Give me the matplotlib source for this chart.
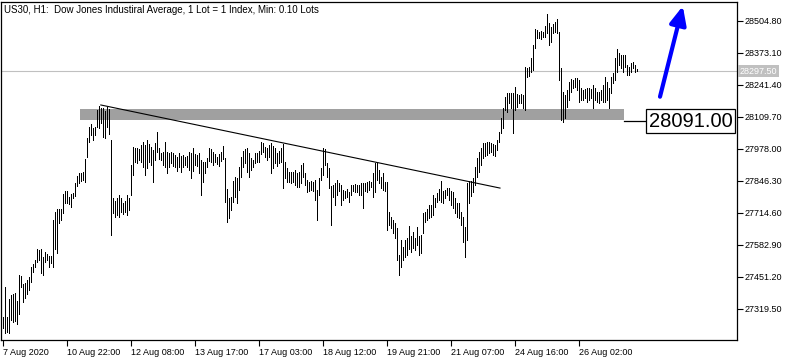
import matplotlib
matplotlib.use('Agg')
import matplotlib.pyplot as plt
from matplotlib.patches import Rectangle
from matplotlib.transforms import blended_transform_factory
import numpy as np

plt.rcParams['font.family'] = ['Liberation Sans', 'DejaVu Sans']

highs = [
    27285, 27409, 27285, 27359, 27376, 27380, 27384, 27351, 27458, 27454,
    27421, 27425, 27438, 27450, 27491, 27503, 27520, 27565, 27561, 27565,
    27532, 27553, 27545, 27536, 27536, 27685, 27717, 27730, 27730, 27730,
    27792, 27804, 27802, 27779, 27792, 27796, 27837, 27866, 27878, 27878,
    27882, 27936, 28022, 28067, 28080, 28063, 28067, 28137, 28154, 28146,
    28146, 28133, 28150, 28141, 28014, 27775, 27763, 27775, 27787, 27775,
    27755, 27763, 27787, 27775, 27911, 27985, 27981, 27981, 27977, 27993,
    28006, 27993, 28014, 27997, 27985, 27973, 28001, 28047, 27981, 27960,
    27964, 28006, 27964, 27960, 27964, 27960, 27952, 27944, 27960, 27948,
    27952, 27944, 27948, 27964, 27960, 27981, 27956, 27952, 27960, 27932,
    27923, 27923, 27940, 27981, 27977, 27964, 27956, 27944, 27956, 27964,
    27989, 27940, 27812, 27775, 27779, 27845, 27862, 27857, 27903, 27944,
    27969, 27977, 27981, 27960, 27940, 27932, 27960, 27960, 27969, 28006,
    28001, 27985, 27981, 27993, 28001, 27989, 27981, 27960, 27969, 27981,
    27997, 27923, 27899, 27882, 27882, 27882, 27890, 27878, 27882, 27911,
    27919, 27878, 27849, 27841, 27845, 27841, 27849, 27808, 27857, 27899,
    27981, 27977, 27919, 27899, 27825, 27829, 27837, 27849, 27837, 27829,
    27808, 27804, 27812, 27800, 27829, 27829, 27833, 27829, 27829, 27837,
    27837, 27837, 27841, 27845, 27841, 27878, 27919, 27919, 27890, 27862,
    27878, 27841, 27841, 27717, 27697, 27685, 27672, 27652, 27541, 27602,
    27573, 27602, 27610, 27660, 27619, 27635, 27610, 27656, 27619, 27623,
    27713, 27717, 27730, 27746, 27746, 27787, 27775, 27796, 27812, 27845,
    27804, 27808, 27816, 27816, 27804, 27800, 27775, 27755, 27755, 27717,
    27697, 27656, 27837, 27845, 27845, 27857, 27903, 27940, 27964, 27981,
    28001, 28001, 28006, 28006, 28001, 27997, 27993, 28014, 28047, 28104,
    28146, 28191, 28207, 28207, 28207, 28207, 28232, 28203, 28199, 28203,
    28199, 28314, 28310, 28314, 28351, 28405, 28471, 28466, 28458, 28462,
    28458, 28483, 28532, 28495, 28479, 28491, 28499, 28512, 28458, 28310,
    28211, 28199, 28220, 28252, 28265, 28261, 28269, 28269, 28261, 28228,
    28220, 28224, 28228, 28228, 28224, 28240, 28228, 28211, 28211, 28220,
    28240, 28273, 28252, 28228, 28273, 28290, 28351, 28388, 28372, 28364,
    28364, 28364, 28322, 28314, 28331, 28335, 28322, 28306,
]

lows = [
    27240, 27220, 27224, 27220, 27273, 27265, 27269, 27257, 27298, 27409,
    27347, 27364, 27380, 27396, 27429, 27471, 27491, 27512, 27520, 27466,
    27458, 27512, 27520, 27491, 27508, 27491, 27565, 27549, 27672, 27685,
    27713, 27755, 27755, 27750, 27738, 27775, 27783, 27825, 27837, 27845,
    27849, 27841, 27944, 28006, 28034, 28014, 28034, 28067, 28063, 28084,
    28026, 28022, 28067, 28039, 27623, 27713, 27697, 27705, 27697, 27717,
    27709, 27717, 27705, 27726, 27787, 27870, 27923, 27919, 27932, 27923,
    27903, 27870, 27899, 27923, 27911, 27841, 27932, 27964, 27936, 27932,
    27911, 27903, 27878, 27903, 27919, 27907, 27903, 27886, 27903, 27882,
    27903, 27911, 27903, 27890, 27857, 27886, 27911, 27907, 27878, 27787,
    27841, 27878, 27903, 27927, 27923, 27911, 27923, 27915, 27907, 27927,
    27936, 27759, 27676, 27693, 27726, 27759, 27779, 27755, 27808, 27862,
    27903, 27919, 27882, 27862, 27890, 27903, 27919, 27923, 27923, 27956,
    27964, 27944, 27932, 27944, 27878, 27899, 27919, 27907, 27919, 27923,
    27816, 27857, 27841, 27841, 27837, 27841, 27829, 27820, 27820, 27837,
    27862, 27829, 27800, 27804, 27808, 27804, 27767, 27685, 27787, 27849,
    27870, 27911, 27862, 27816, 27664, 27779, 27746, 27787, 27804, 27746,
    27767, 27775, 27779, 27759, 27787, 27804, 27800, 27800, 27787, 27787,
    27734, 27804, 27800, 27808, 27820, 27779, 27800, 27849, 27837, 27816,
    27808, 27804, 27643, 27664, 27652, 27631, 27610, 27520, 27458, 27491,
    27520, 27532, 27541, 27565, 27553, 27569, 27561, 27582, 27541, 27549,
    27631, 27676, 27685, 27693, 27697, 27705, 27738, 27759, 27767, 27759,
    27755, 27775, 27787, 27767, 27746, 27734, 27713, 27697, 27693, 27664,
    27594, 27532, 27602, 27755, 27783, 27800, 27829, 27862, 27882, 27911,
    27940, 27948, 27952, 27960, 27964, 27952, 27948, 27973, 28006, 28043,
    28063, 28137, 28129, 28166, 28146, 28043, 28137, 28150, 28166, 28166,
    28146, 28137, 28273, 28277, 28294, 28302, 28392, 28434, 28434, 28429,
    28438, 28438, 28454, 28405, 28417, 28454, 28458, 28454, 28261, 28096,
    28088, 28104, 28150, 28178, 28211, 28228, 28232, 28220, 28170, 28178,
    28178, 28187, 28170, 28178, 28187, 28146, 28178, 28170, 28166, 28178,
    28170, 28170, 28178, 28146, 28207, 28248, 28261, 28294, 28322, 28310,
    28294, 28314, 28281, 28281, 28294, 28310, 28294, 28297,
]

x_labels = ["7 Aug 2020", "10 Aug 22:00", "12 Aug 08:00", "13 Aug 17:00",
            "17 Aug 03:00", "18 Aug 12:00", "19 Aug 21:00", "21 Aug 07:00",
            "24 Aug 16:00", "26 Aug 02:00"]
x_label_bars = [0, 32, 64, 96, 128, 160, 192, 224, 256, 288]
y_ticks = [27319.50, 27451.20, 27582.90, 27714.60, 27846.30,
           27978.00, 28109.70, 28241.40, 28373.10, 28504.80]
last_price = 28297.50
level_price = 28091.00
band_low, band_high = 28096, 28141
band_start, band_end = 38.5, 310.5
trend_start = (48.9, 28158)
trend_end = (248.5, 27816)
arrow_tail = (328.5, 28192)
arrow_tip = (339.9, 28565)
title = "US30, H1:  Dow Jones Industiral Average, 1 Lot = 1 Index, Min: 0.10 Lots"

W, H = 795, 361
fig = plt.figure(figsize=(W / 100, H / 100), dpi=100)
ax = fig.add_axes([1 / W, 21 / H, 736 / W, 338 / H])

idx = np.arange(len(highs))
ax.axhline(last_price, color='#c0c0c0', lw=0.8, zorder=0)
ax.add_patch(Rectangle((band_start, band_low), band_end - band_start,
                       band_high - band_low, facecolor='#a0a0a0',
                       edgecolor='none', zorder=1))
ax.vlines(idx, lows, highs, color='black', lw=0.7, antialiased=False, zorder=2)
ax.plot([trend_start[0], trend_end[0]], [trend_start[1], trend_end[1]],
        color='black', lw=0.8, zorder=3)

# level label line and box
ax.plot([band_end, 321.5], [level_price, level_price], color='black', lw=0.9, zorder=3)
ax.text(322.8, level_price, f"{level_price:.2f}", ha='left', va='center',
        fontsize=14.5, color='black', zorder=5,
        bbox=dict(facecolor='white', edgecolor='black', lw=0.9, pad=1.8))

ax.annotate('', xy=arrow_tip, xytext=arrow_tail,
            arrowprops=dict(arrowstyle='-|>,head_length=0.55,head_width=0.25',
                            color='#0000ff', lw=3, mutation_scale=20,
                            shrinkA=0, shrinkB=0), zorder=4)

ax.set_xlim(-1, 367)
ax.set_ylim(27190.7, 28581.8)

ax.yaxis.tick_right()
ax.set_yticks(y_ticks)
ax.set_yticklabels([f"{v:.2f}" for v in y_ticks])
ax.set_xticks(x_label_bars)
ax.set_xticklabels(x_labels)
for lab in ax.get_xticklabels():
    lab.set_horizontalalignment('left')
ax.tick_params(axis='both', direction='out', length=4, width=0.8,
               labelsize=6.5, pad=1.5, colors='black')

for s in ax.spines.values():
    s.set_linewidth(0.9)
    s.set_color('black')

trans = blended_transform_factory(ax.transAxes, ax.transData)
ax.text(1.004, last_price, f"{last_price:.2f}", transform=trans, ha='left',
        va='center', fontsize=6.5, color='white', clip_on=False,
        bbox=dict(facecolor='#c0c0c0', edgecolor='none', pad=1.2))

ax.text(0.004, 0.992, title, transform=ax.transAxes, ha='left', va='top',
        fontsize=7, color='black')

fig.savefig('out.png', dpi=100)
